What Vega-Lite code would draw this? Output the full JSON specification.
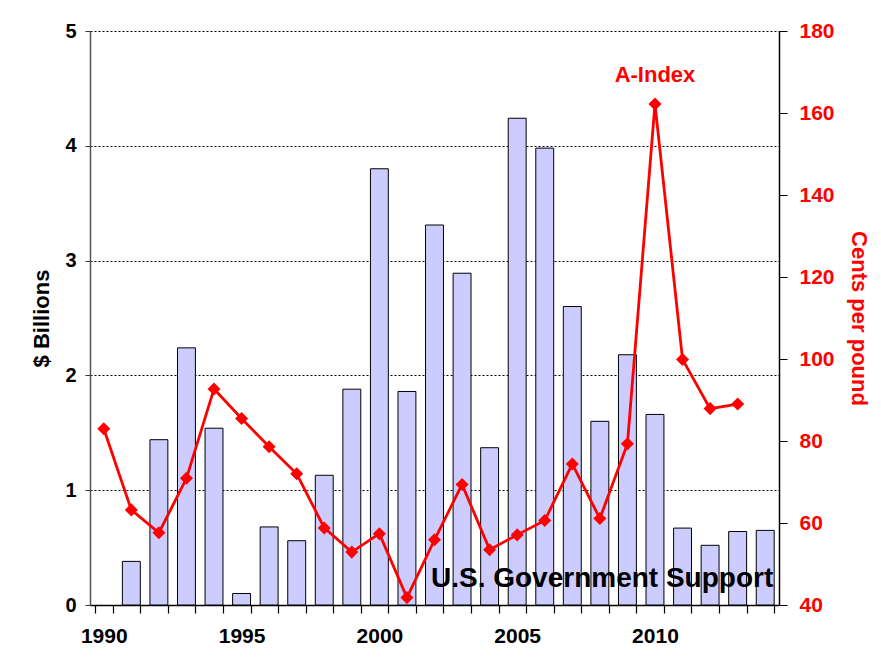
{
  "$schema": "https://vega.github.io/schema/vega-lite/v6.json",
  "width": 689,
  "height": 574,
  "autosize": {"type": "none"},
  "padding": {"left": 90, "top": 31, "right": 102, "bottom": 60},
  "background": "white",
  "config": {
    "view": {"stroke": null},
    "font": "Liberation Sans",
    "axis": {"labelFont": "Liberation Sans", "titleFont": "Liberation Sans", "labelFontWeight": "bold", "titleFontWeight": "bold"}
  },
  "datasets": {
    "main": [
      {"year": 1990, "support": null, "price": 83.0},
      {"year": 1991, "support": 0.38, "price": 63.2},
      {"year": 1992, "support": 1.44, "price": 57.6},
      {"year": 1993, "support": 2.24, "price": 70.9},
      {"year": 1994, "support": 1.54, "price": 92.7},
      {"year": 1995, "support": 0.10, "price": 85.5},
      {"year": 1996, "support": 0.68, "price": 78.6},
      {"year": 1997, "support": 0.56, "price": 72.0},
      {"year": 1998, "support": 1.13, "price": 58.8},
      {"year": 1999, "support": 1.88, "price": 52.9},
      {"year": 2000, "support": 3.80, "price": 57.4},
      {"year": 2001, "support": 1.86, "price": 41.8},
      {"year": 2002, "support": 3.31, "price": 55.9},
      {"year": 2003, "support": 2.89, "price": 69.4},
      {"year": 2004, "support": 1.37, "price": 53.5},
      {"year": 2005, "support": 4.24, "price": 57.1},
      {"year": 2006, "support": 3.98, "price": 60.6},
      {"year": 2007, "support": 2.60, "price": 74.4},
      {"year": 2008, "support": 1.60, "price": 61.1},
      {"year": 2009, "support": 2.18, "price": 79.3},
      {"year": 2010, "support": 1.66, "price": 162.2},
      {"year": 2011, "support": 0.67, "price": 99.9},
      {"year": 2012, "support": 0.52, "price": 87.9},
      {"year": 2013, "support": 0.64, "price": 89.0},
      {"year": 2014, "support": 0.65, "price": null}
    ],
    "leftLabels": [
      {"year": 2014, "v": 0.16, "label": "U.S. Government Support"}
    ],
    "rightLabels": [
      {"year": 2010, "v": 167.6, "label": "A-Index"}
    ]
  },
  "encoding": {
    "x": {
      "field": "year",
      "type": "ordinal",
      "sort": "ascending",
      "scale": {"paddingInner": 0.35, "paddingOuter": 0.175},
      "axis": {
        "title": null,
        "labelAngle": 0,
        "labelExpr": "datum.value % 5 === 0 ? datum.value : ''",
        "labelFontSize": 21,
        "labelColor": "black",
        "labelPadding": 12,
        "tickBand": "extent",
        "tickSize": 8,
        "tickColor": "black",
        "tickWidth": 1.2,
        "domainColor": "black",
        "domainWidth": 1.5
      }
    }
  },
  "layer": [
    {
      "layer": [
        {
          "data": {"name": "main"},
          "mark": {"type": "bar", "fill": "#CCCCFF", "stroke": "black", "strokeWidth": 1},
          "encoding": {
            "y": {
              "field": "support",
              "type": "quantitative",
              "scale": {"domain": [0, 5]},
              "axis": {
                "title": "$ Billions",
                "titleFontSize": 22,
                "titleColor": "black",
                "titlePadding": 11,
                "values": [0, 1, 2, 3, 4, 5],
                "format": "d",
                "labelFontSize": 20,
                "labelColor": "black",
                "labelPadding": 9,
                "tickSize": 5,
                "tickColor": "#333333",
                "domainColor": "#555555",
                "domainWidth": 1.5,
                "grid": true,
                "gridColor": "black",
                "gridDash": [2, 2],
                "gridWidth": 1
              }
            }
          }
        },
        {
          "data": {"name": "leftLabels"},
          "mark": {"type": "text", "align": "right", "baseline": "alphabetic", "dx": 8, "fontSize": 28, "fontWeight": "bold", "font": "Liberation Sans", "color": "black"},
          "encoding": {
            "y": {"field": "v", "type": "quantitative"},
            "text": {"field": "label"}
          }
        }
      ]
    },
    {
      "layer": [
        {
          "data": {"name": "main"},
          "mark": {"type": "line", "color": "#FF0000", "strokeWidth": 2.8},
          "encoding": {
            "y": {
              "field": "price",
              "type": "quantitative",
              "scale": {"domain": [40, 180], "zero": false},
              "axis": {
                "orient": "right",
                "title": "Cents per pound",
                "titleFontSize": 22,
                "titleColor": "#FF0000",
                "titlePadding": 12,
                "values": [40, 60, 80, 100, 120, 140, 160, 180],
                "labelFontSize": 21,
                "labelColor": "#FF0000",
                "labelPadding": 12,
                "tickSize": 8,
                "tickColor": "black",
                "domainColor": "black",
                "domainWidth": 1.5,
                "grid": false
              }
            }
          }
        },
        {
          "data": {"name": "main"},
          "mark": {"type": "point", "shape": "diamond", "filled": true, "color": "#FF0000", "size": 170, "opacity": 1},
          "encoding": {
            "y": {"field": "price", "type": "quantitative"}
          }
        },
        {
          "data": {"name": "rightLabels"},
          "mark": {"type": "text", "align": "center", "baseline": "alphabetic", "fontSize": 22, "fontWeight": "bold", "font": "Liberation Sans", "color": "#FF0000"},
          "encoding": {
            "y": {"field": "v", "type": "quantitative"},
            "text": {"field": "label"}
          }
        }
      ]
    }
  ],
  "resolve": {"scale": {"y": "independent"}}
}
